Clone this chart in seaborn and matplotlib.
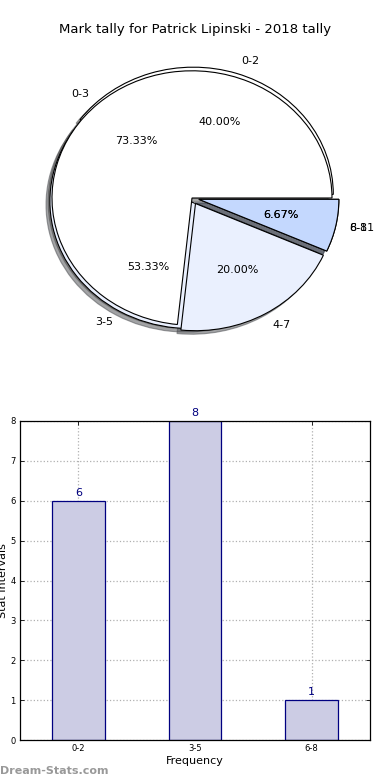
import matplotlib
matplotlib.use("Agg")
import matplotlib.pyplot as plt
import seaborn as sns
import pandas as pd

# ---- data ----
title = "Mark tally for Patrick Lipinski - 2018 tally"
pie1_labels = ["0-2", "3-5", "6-8"]
pie1_values = [6, 8, 1]
pie2_labels = ["0-3", "4-7", "8-11"]
pie2_values = [11, 3, 1]
bar_categories = ["0-2", "3-5", "6-8"]
bar_values = [6, 8, 1]
y_ticks = [0, 1, 2, 3, 4, 5, 6, 7, 8]

sns.set_theme(style="white")
plt.rcParams['font.family'] = ['DejaVu Sans']
plt.rcParams['text.color'] = 'black'
plt.rcParams['axes.labelcolor'] = 'black'
plt.rcParams['xtick.color'] = 'black'
plt.rcParams['ytick.color'] = 'black'

fig = plt.figure(figsize=(3.9, 7.8), dpi=100)

pie_colors = ["#ffffff", "#eaf0fe", "#c4d8fe"]

# ---- pie ----
cx, cy = 192, 198
W, H = 350, 318
axp = fig.add_axes([(cx - W/2)/390, 1 - (cy + H/2)/780, W/390, H/780])
axp.pie(pie1_values, labels=pie1_labels, colors=pie_colors, autopct="%.2f%%",
        explode=(0.03, 0.03, 0.05), shadow=True, startangle=0,
        wedgeprops=dict(edgecolor="black", linewidth=0.8),
        textprops=dict(fontsize=8, color="black"))
axp.pie(pie2_values, labels=pie2_labels, colors=pie_colors, autopct="%.2f%%",
        explode=(0.0, 0.05, 0.05), shadow=True, startangle=0,
        wedgeprops=dict(edgecolor="black", linewidth=0.8),
        textprops=dict(fontsize=8, color="black"))
axp.set_aspect('auto')
axp.set_xlim(-1.25, 1.25)
axp.set_ylim(-1.25, 1.25)
axp.axis('off')

fig.text(0.5, 1 - 30/780, title, ha='center', va='center', fontsize=9.5, color="black")

# ---- bar ----
axb = fig.add_axes([20/390, 1 - 740/780, 350/390, 319/780])
df = pd.DataFrame({"cat": bar_categories, "val": bar_values})
sns.barplot(data=df, x="cat", y="val", ax=axb, color="#ccccE4", width=0.45,
            edgecolor="#000080", linewidth=0.9, saturation=1)
for i, v in enumerate(bar_values):
    axb.text(i, v + 0.08, str(v), ha='center', va='bottom', color="#000080", fontsize=8)
axb.set_xlim(-0.5, 2.5)
axb.set_ylim(0, 8)
axb.set_yticks(y_ticks)
axb.tick_params(axis='both', labelsize=6, direction='in', length=3, width=0.6,
                top=True, right=True, left=True, bottom=True, pad=3)
axb.grid(True, color="#b0b0b0", linestyle=":", linewidth=0.9)
axb.set_axisbelow(True)
for s in axb.spines.values():
    s.set_color("black")
    s.set_linewidth(0.9)
axb.set_xlabel("Frequency", fontsize=8, labelpad=2)
axb.set_ylabel("Stat Intervals", fontsize=8, labelpad=2)

fig.text(0.0, 1 - 771/780, "Dream-Stats.com", ha='left', va='center',
         fontsize=8, color="#999999", fontweight='bold')

fig.savefig("out.png", dpi=100)
